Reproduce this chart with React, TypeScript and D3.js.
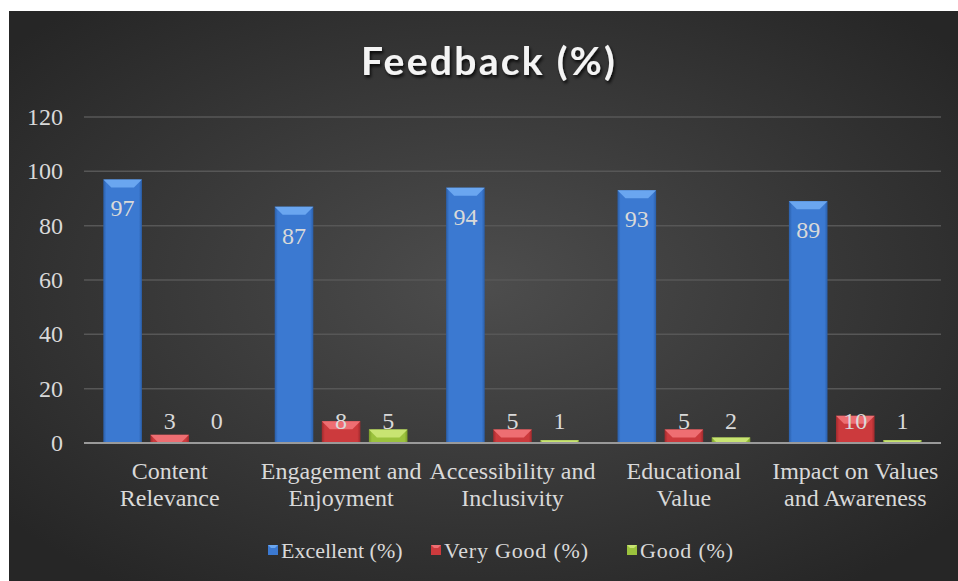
import * as d3 from 'd3';
import React, { useRef, useEffect } from 'react';

const categories = [
  ['Content', 'Relevance'],
  ['Engagement and', 'Enjoyment'],
  ['Accessibility and', 'Inclusivity'],
  ['Educational', 'Value'],
  ['Impact on Values', 'and Awareness'],
];
const seriesNames = ['Excellent (%)', 'Very Good (%)', 'Good (%)'];
const excellent = [97, 87, 94, 93, 89];
const veryGood = [3, 8, 5, 5, 10];
const good = [0, 5, 1, 2, 1];
const yTicks = [0, 20, 40, 60, 80, 100, 120];

const W = 958;
const H = 581;
const font = '"Liberation Serif", "Times New Roman", serif';
const txt = '#d9d9d9';

// main, light (bevel top), dark (edges)
const palette = [
  { main: '#3b79d1', light: '#6aa6f0', dark: '#2a5ea8' },
  { main: '#cc3a3d', light: '#ee6e72', dark: '#a02a2d' },
  { main: '#9bc23d', light: '#c8e472', dark: '#7a9c2a' },
];

function App() {
  const ref = useRef<SVGSVGElement>(null);

  useEffect(() => {
    draw();
  });

  const draw = () => {
    const svg = d3.select(ref.current).attr('width', W).attr('height', H);
    svg.selectAll('*').remove();

    const margin = { top: 117, right: 17, bottom: 138, left: 84 };
    const series = [excellent, veryGood, good];
    const keys = categories.map((c) => c.join(' '));

    const defs = svg.append('defs');
    const bg = defs.append('radialGradient').attr('id', 'bg')
      .attr('cx', '50%').attr('cy', '48%').attr('r', '65%');
    bg.append('stop').attr('offset', '0%').attr('stop-color', '#4d4d4d');
    bg.append('stop').attr('offset', '100%').attr('stop-color', '#262626');

    palette.forEach((p, i) => {
      const g = defs.append('linearGradient').attr('id', 'bar' + i)
        .attr('x1', '0').attr('x2', '1').attr('y1', '0').attr('y2', '0');
      g.append('stop').attr('offset', '0%').attr('stop-color', p.dark);
      g.append('stop').attr('offset', '8%').attr('stop-color', p.main);
      g.append('stop').attr('offset', '92%').attr('stop-color', p.main);
      g.append('stop').attr('offset', '100%').attr('stop-color', p.dark);
    });

    const shadow = defs.append('filter').attr('id', 'tshadow')
      .attr('x', '-10%').attr('y', '-20%').attr('width', '120%').attr('height', '150%');
    shadow.append('feDropShadow').attr('dx', 1.5).attr('dy', 2.5)
      .attr('stdDeviation', 1.5).attr('flood-color', '#000').attr('flood-opacity', 0.8);

    svg.append('rect').attr('x', 9).attr('y', 11)
      .attr('width', W - 9).attr('height', H - 11).attr('fill', 'url(#bg)');

    svg.append('text')
      .attr('x', 489).attr('y', 75)
      .attr('text-anchor', 'middle')
      .attr('fill', '#f4f4f4')
      .attr('filter', 'url(#tshadow)')
      .style('font-family', 'Lato, sans-serif')
      .style('font-weight', 700)
      .style('font-size', '39px')
      .style('letter-spacing', '2.3px')
      .text('Feedback (%)');

    const y = d3.scaleLinear().domain([0, 120]).range([H - margin.bottom, margin.top]);
    const x0 = d3.scaleBand().domain(keys).range([margin.left, W - margin.right]);
    const x1 = d3.scaleBand().domain(seriesNames).range([0, x0.bandwidth()])
      .paddingInner(0.18).paddingOuter(0.41);

    // gridlines
    svg.append('g').selectAll('line').data(yTicks.filter((t) => t > 0)).enter()
      .append('line')
      .attr('x1', margin.left).attr('x2', W - margin.right)
      .attr('y1', (d) => y(d)).attr('y2', (d) => y(d))
      .attr('stroke', '#575757').attr('stroke-width', 1.5);

    // y labels
    svg.append('g').selectAll('text').data(yTicks).enter()
      .append('text')
      .attr('x', 63).attr('y', (d) => y(d) + 8)
      .attr('text-anchor', 'end')
      .attr('fill', txt)
      .style('font-family', font).style('font-size', '24px')
      .text((d) => d);

    const barg = svg.append('g');
    series.forEach((vals, si) => {
      const p = palette[si];
      vals.forEach((v, ci) => {
        const bx = x0(keys[ci])! + x1(seriesNames[si])!;
        const bw = x1.bandwidth();
        const top = y(v);
        const h = y(0) - top;
        if (h > 0) {
          barg.append('rect').attr('x', bx).attr('y', top)
            .attr('width', bw).attr('height', h).attr('fill', `url(#bar${si})`);
          const bv = Math.min(8, h);
          barg.append('path')
            .attr('d', `M${bx},${top} L${bx + bw},${top} L${bx + bw - bv},${top + bv} L${bx + bv},${top + bv} Z`)
            .attr('fill', p.light);
        }
        const ly = Math.min(top + 37, y(0) - 14);
        barg.append('text')
          .attr('x', bx + bw / 2).attr('y', ly)
          .attr('text-anchor', 'middle')
          .attr('fill', txt)
          .style('font-family', font).style('font-size', '24px')
          .text(v);
      });
    });

    // baseline
    svg.append('line')
      .attr('x1', margin.left).attr('x2', W - margin.right)
      .attr('y1', y(0)).attr('y2', y(0))
      .attr('stroke', '#9a9a9a').attr('stroke-width', 2);

    // category labels
    const cg = svg.append('g');
    categories.forEach((c, i) => {
      const t = cg.append('text')
        .attr('x', x0(keys[i])! + x0.bandwidth() / 2)
        .attr('y', 479)
        .attr('text-anchor', 'middle')
        .attr('fill', txt)
        .style('font-family', font).style('font-size', '24px');
      c.forEach((line, li) => {
        t.append('tspan').attr('x', x0(keys[i])! + x0.bandwidth() / 2)
          .attr('dy', li === 0 ? 0 : 27).text(line);
      });
    });

    // legend
    const legendX = [268, 431, 627];
    const lg = svg.append('g');
    seriesNames.forEach((s, i) => {
      const p = palette[i];
      lg.append('rect').attr('x', legendX[i]).attr('y', 545)
        .attr('width', 10).attr('height', 10).attr('fill', p.main);
      lg.append('path')
        .attr('d', `M${legendX[i]},545 L${legendX[i] + 10},545 L${legendX[i] + 7},548 L${legendX[i] + 3},548 Z`)
        .attr('fill', p.light);
      lg.append('text').attr('x', legendX[i] + 13).attr('y', 558)
        .attr('fill', txt)
        .style('font-family', font).style('font-size', '22px')
        .style('letter-spacing', i === 0 ? '0px' : '0.8px')
        .text(s);
    });
  };

  return (
    <div style={{ position: 'absolute', left: 0, top: 0 }}>
      <svg ref={ref} style={{ display: 'block' }}></svg>
    </div>
  );
}

export default App;
